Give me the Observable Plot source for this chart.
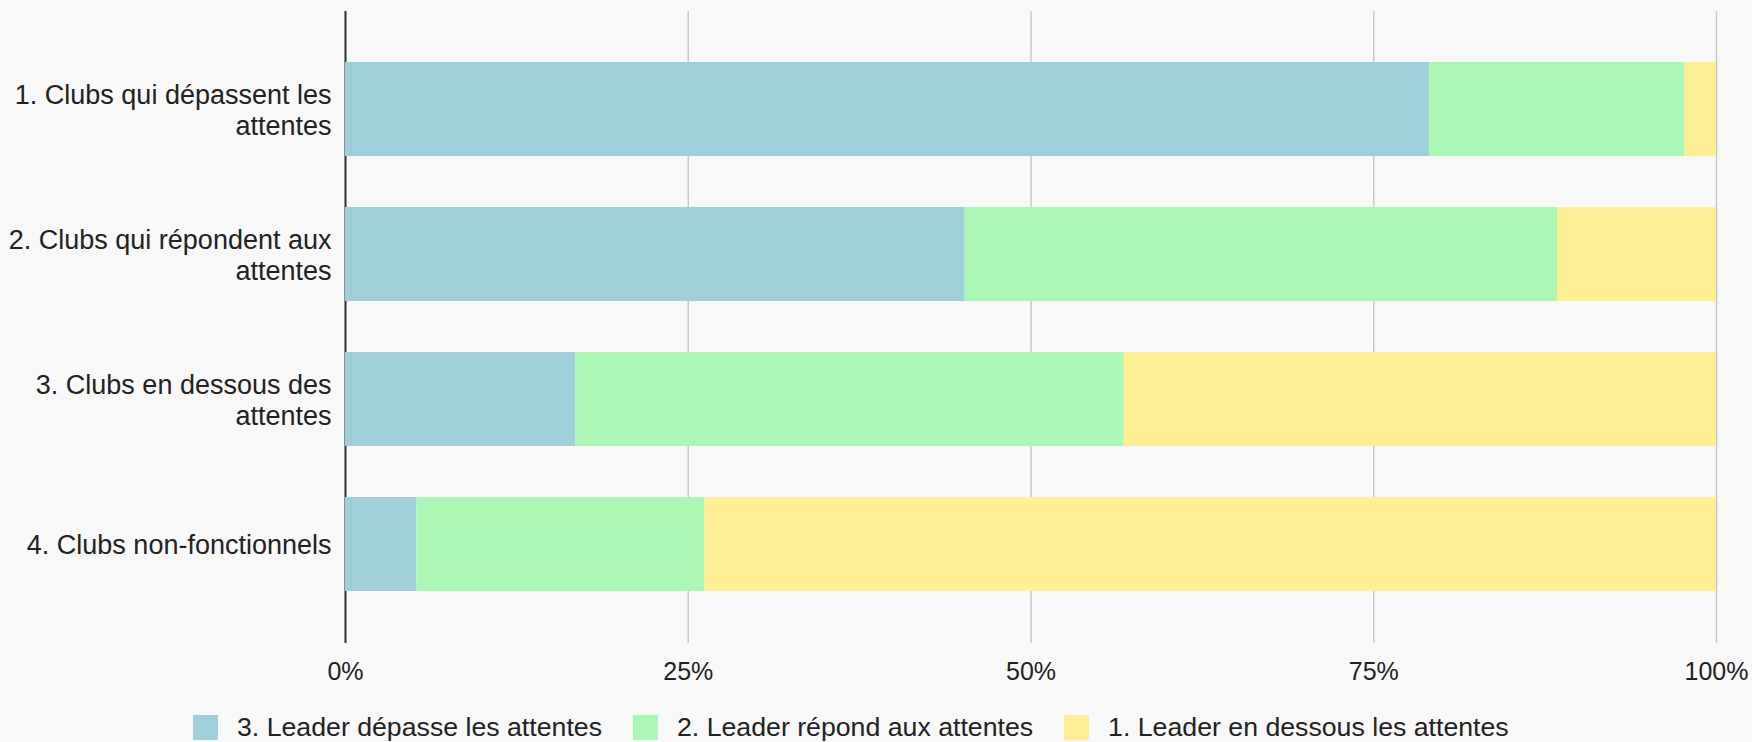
<!DOCTYPE html>
<html>
<head>
<meta charset="utf-8">
<script src="https://cdn.jsdelivr.net/npm/d3@7"></script>
<script src="https://cdn.jsdelivr.net/npm/@observablehq/plot@0.6"></script>
<style>
  html, body { margin: 0; padding: 0; background: #f8f8f8; }
  #wrap { position: relative; width: 1752px; height: 742px; background: #f8f8f8; overflow: hidden;
          font-family: "Liberation Sans", Arial, sans-serif; color: #222; }
  #chart { position: absolute; left: 0; top: 0; }
  #legend { position: absolute; left: 193px; top: 714px; display: flex; align-items: center; height: 26px; }
  .item { display: flex; align-items: center; margin-right: 31px; }
  .sw { width: 25px; height: 25px; margin-right: 19px; }
  .lbl { font-size: 26.7px; line-height: 1; white-space: nowrap; color: #222; }
</style>
</head>
<body>
<div id="wrap">
  <div id="chart"></div>
  <div id="legend"></div>
</div>
<script>
// ---- Data ----
const categories = [
  "1. Clubs qui dépassent les attentes",
  "2. Clubs qui répondent aux attentes",
  "3. Clubs en dessous des attentes",
  "4. Clubs non-fonctionnels"
];
const categoryTickLabels = [
  "1. Clubs qui dépassent les\nattentes",
  "2. Clubs qui répondent aux\nattentes",
  "3. Clubs en dessous des\nattentes",
  "4. Clubs non-fonctionnels"
];
const seriesNames = [
  "3. Leader dépasse les attentes",
  "2. Leader répond aux attentes",
  "1. Leader en dessous les attentes"
];
const seriesColors = ["#a0ced9", "#adf7b6", "#ffee93"];
// percentage shares per category
const leaderDepasse = [79.1, 45.2, 16.8, 5.2];
const leaderRepond  = [18.6, 43.2, 40.0, 21.0];
const leaderDessous = [2.3, 11.6, 43.2, 73.8];
const xTicks = [0, 25, 50, 75, 100];

// ---- Build table ----
const seriesValues = [leaderDepasse, leaderRepond, leaderDessous];
const data = [];
categories.forEach((c, i) => {
  seriesNames.forEach((s, j) => {
    data.push({category: c, series: s, value: seriesValues[j][i]});
  });
});
const tickLabelMap = new Map(categories.map((c, i) => [c, categoryTickLabels[i]]));

const plot = Plot.plot({
  width: 1752,
  height: 700,
  marginLeft: 345,
  marginRight: 36,
  marginTop: 11,
  marginBottom: 57,
  style: {background: "transparent", fontFamily: "\"Liberation Sans\", Arial, sans-serif", color: "#222"},
  x: {domain: [0, 100], ticks: xTicks, label: null},
  y: {domain: categories, paddingInner: 0.35, paddingOuter: 0.35, label: null},
  color: {domain: seriesNames, range: seriesColors},
  marks: [
    Plot.gridX(xTicks, {stroke: "#c8c8c8", strokeOpacity: 1, strokeWidth: 1.5}),
    Plot.ruleX([0], {stroke: "#333", strokeWidth: 2}),
    Plot.barX(data, Plot.stackX({
      x: "value", y: "category", fill: "series",
      order: seriesNames
    })),
    Plot.axisX(xTicks, {tickSize: 0, tickPadding: 19, fontSize: 25, tickFormat: d => d + "%", label: null, fill: "#222"}),
    Plot.axisY({tickSize: 0, tickPadding: 14, fontSize: 27, lineHeight: 1.15,
      tickFormat: d => tickLabelMap.get(d), label: null, fill: "#222"})
  ]
});
document.getElementById("chart").appendChild(plot);

// ---- Legend ----
const legend = document.getElementById("legend");
seriesNames.forEach((s, j) => {
  const item = document.createElement("div");
  item.className = "item";
  const sw = document.createElement("div");
  sw.className = "sw";
  sw.style.background = seriesColors[j];
  const lbl = document.createElement("span");
  lbl.className = "lbl";
  lbl.textContent = s;
  item.appendChild(sw);
  item.appendChild(lbl);
  legend.appendChild(item);
});
</script>
</body>
</html>
